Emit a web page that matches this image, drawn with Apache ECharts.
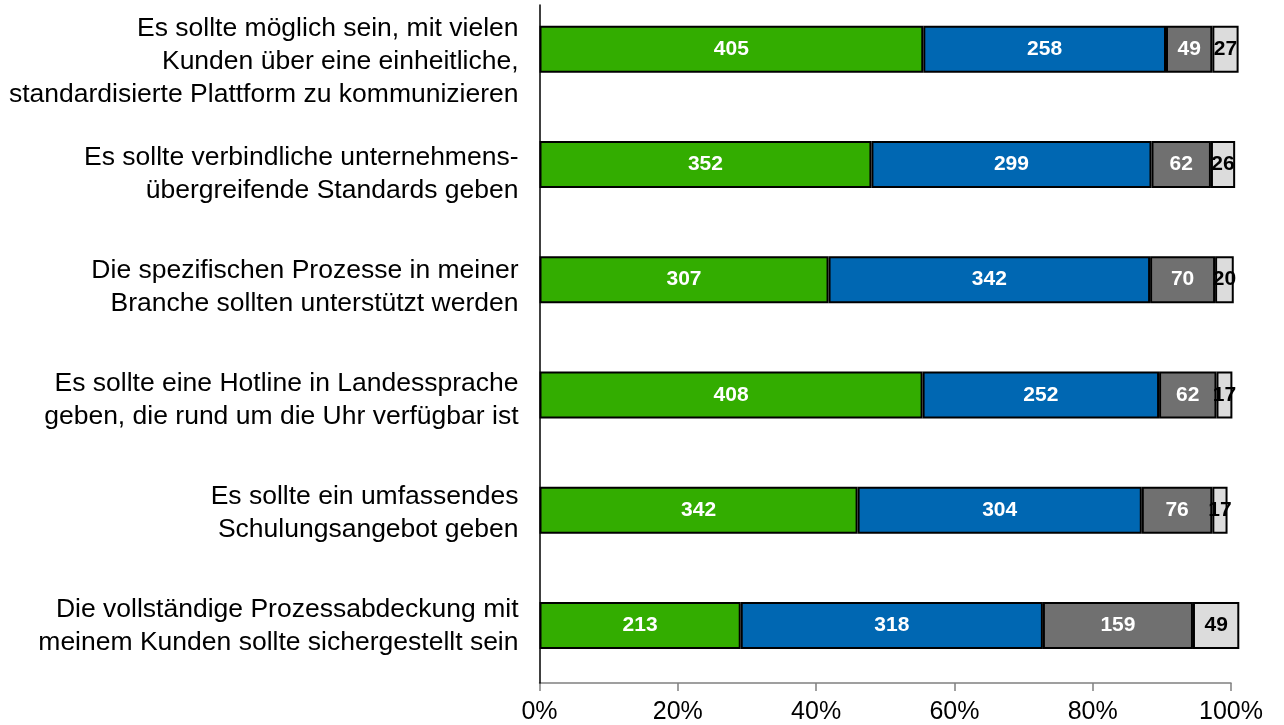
<!DOCTYPE html>
<html>
<head>
<meta charset="utf-8">
<script src="https://cdn.jsdelivr.net/npm/echarts@6/dist/echarts.min.js"></script>
<style>
html,body{margin:0;padding:0;background:#fff;}
#chart{width:1284px;height:725px;}
</style>
</head>
<body>
<div id="chart"></div>
<script>
// Categories (top to bottom)
var categories = [
  "Es sollte möglich sein, mit vielen\nKunden über eine einheitliche,\nstandardisierte Plattform zu kommunizieren",
  "Es sollte verbindliche unternehmens-\nübergreifende Standards geben",
  "Die spezifischen Prozesse in meiner\nBranche sollten unterstützt werden",
  "Es sollte eine Hotline in Landessprache\ngeben, die rund um die Uhr verfügbar ist",
  "Es sollte ein umfassendes\nSchulungsangebot geben",
  "Die vollständige Prozessabdeckung mit\nmeinem Kunden sollte sichergestellt sein"
];
// Segment lengths in percent
var greenPct = [55.5, 48.0, 41.8, 55.4, 46.0, 29.1];
var bluePct  = [35.1, 40.5, 46.5, 34.2, 41.1, 43.7];
var grayPct  = [6.7, 8.6, 9.4, 8.3, 10.2, 21.7];
var lightPct = [3.8, 3.5, 2.7, 2.3, 2.2, 6.7];
// Counts shown as labels
var greenN = [405, 352, 307, 408, 342, 213];
var blueN  = [258, 299, 342, 252, 304, 318];
var grayN  = [49, 62, 70, 62, 76, 159];
var lightN = [27, 26, 20, 17, 17, 49];
// Axis ticks
var xTicks = [0, 20, 40, 60, 80, 100];

var FONT = "'Liberation Sans', Arial, sans-serif";

function mk(name, pct, counts, color, labelColor) {
  return {
    name: name,
    type: 'bar',
    stack: 'all',
    xAxisIndex: 1,
    yAxisIndex: 1,
    barWidth: 47,
    clip: false,
    data: pct.map(function (v, i) { return { value: v, count: counts[i] }; }),
    itemStyle: { color: color, borderColor: '#000', borderWidth: 2 },
    label: {
      show: true,
      position: 'inside',
      color: labelColor,
      fontFamily: FONT,
      fontWeight: 'bold',
      fontSize: 21,
      formatter: function (p) { return String(p.data.count); }
    },
    emphasis: { disabled: true },
    animation: false
  };
}

var chart = echarts.init(document.getElementById('chart'));
chart.setOption({
  backgroundColor: '#fff',
  animation: false,
  grid: [
    { left: 539.5, right: 53, top: 5, bottom: 42, containLabel: false, outerBoundsMode: 'none' },
    { left: 539.5, right: 53, top: -8.5, bottom: 42, containLabel: false, outerBoundsMode: 'none' }
  ],
  xAxis: [
    {
      gridIndex: 0,
      type: 'value',
      min: xTicks[0],
      max: xTicks[xTicks.length - 1],
      interval: 20,
      axisLine: { show: true, lineStyle: { color: '#808080', width: 1.5 } },
      axisTick: { show: true, length: 8, lineStyle: { color: '#808080', width: 1.5 } },
      splitLine: { show: false },
      axisLabel: {
        color: '#000',
        fontFamily: FONT,
        fontSize: 25,
        margin: 17,
        formatter: '{value}%'
      }
    },
    {
      gridIndex: 1,
      type: 'value',
      min: 0,
      max: 100,
      show: false
    }
  ],
  yAxis: [
    {
      gridIndex: 0,
      type: 'category',
      inverse: true,
      data: categories,
      axisLine: { show: true, lineStyle: { color: '#000', width: 1.5 } },
      axisTick: { show: false },
      splitLine: { show: false },
      axisLabel: {
        color: '#000',
        fontFamily: FONT,
        fontSize: 26.5,
        lineHeight: 33,
        align: 'right',
        margin: 21
      },
      z: 5
    },
    {
      gridIndex: 1,
      type: 'category',
      inverse: true,
      data: categories,
      show: false
    }
  ],
  series: [
    mk('A', greenPct, greenN, '#33AD00', '#fff'),
    mk('B', bluePct, blueN, '#0067B2', '#fff'),
    mk('C', grayPct, grayN, '#707070', '#fff'),
    mk('D', lightPct, lightN, '#DCDCDC', '#000')
  ]
});
</script>
</body>
</html>
